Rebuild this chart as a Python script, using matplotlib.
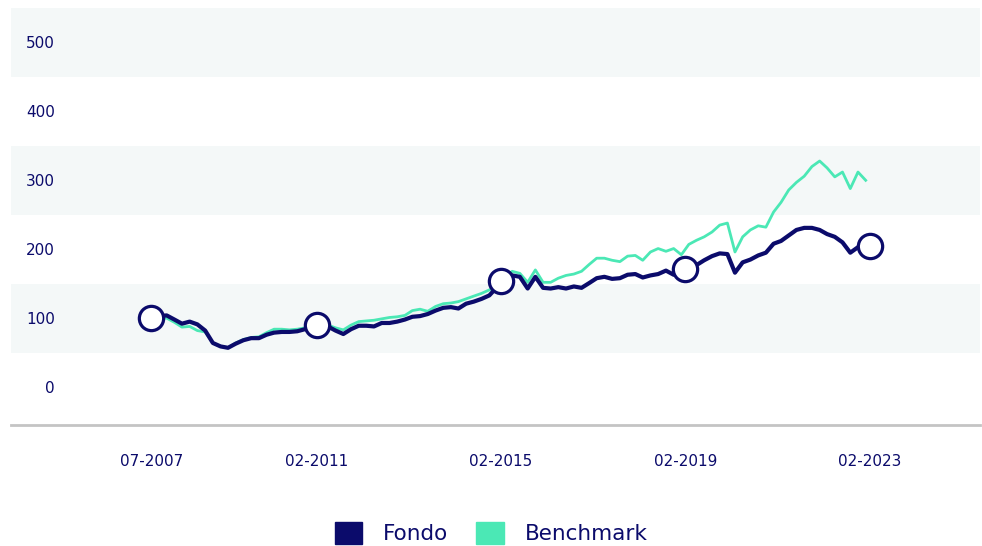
import matplotlib
matplotlib.use("Agg")
import matplotlib.pyplot as plt
import matplotlib.patches as mpatches
import numpy as np
import pandas as pd

plt.rcParams["font.family"] = "DejaVu Sans"

# every two months, 07-2007 .. 01-2023
dates = pd.date_range("2007-07-01", "2023-01-01", freq="2MS")

fondo = [100, 103, 104, 98, 92, 95, 91, 82, 64, 59,
         57, 63, 68, 71, 71, 76, 79, 80, 80, 81,
         84, 88, 89, 88, 82, 77, 84, 89, 89, 88,
         93, 93, 95, 98, 102, 103, 106, 111, 115, 116,
         114, 121, 124, 128, 133, 145, 155, 162, 160, 143,
         160, 144, 143, 145, 143, 146, 144, 151, 158, 160,
         157, 158, 163, 164, 159, 162, 164, 169, 163, 168,
         174, 177, 184, 190, 194, 193, 166, 181, 185, 191,
         195, 208, 212, 220, 228, 231, 231, 228, 222, 218,
         210, 195, 203, 204]

benchmark = [100, 101, 100, 94, 87, 88, 82, 80, 64, 59,
             57, 64, 69, 72, 73, 79, 84, 84, 83, 84,
             86, 88, 91, 90, 86, 83, 90, 95, 96, 97,
             99, 101, 102, 104, 111, 113, 110, 117, 121, 122,
             124, 128, 132, 136, 141, 147, 156, 168, 165, 152,
             170, 152, 152, 158, 162, 164, 168, 178, 187, 187,
             184, 182, 190, 191, 184, 196, 201, 197, 201, 192,
             207, 213, 218, 225, 235, 238, 196, 218, 228, 234,
             232, 254, 268, 286, 297, 306, 320, 328, 318, 305,
             312, 288, 312, 300]

marker_dates = pd.to_datetime(["2007-07-01", "2011-02-01", "2015-02-01",
                               "2019-02-01", "2023-02-01"])
marker_vals = [100, 90, 154, 172, 205]
tick_labels = ["07-2007", "02-2011", "02-2015", "02-2019", "02-2023"]

navy = "#0b0b6b"
green = "#4be8b5"
band = "#f4f8f8"

fig = plt.figure(figsize=(9.82, 5.46), dpi=100)
ax = fig.add_axes([11 / 982, 121 / 546, 969 / 982, 417 / 546])

for c in [100, 300, 500]:
    ax.axhspan(c - 50, c + 50, color=band, zorder=0, lw=0)

ax.plot(dates, benchmark, color=green, lw=2.0, zorder=2)
ax.plot(dates, fondo, color=navy, lw=3.0, zorder=3, solid_joinstyle="round")
ax.plot(marker_dates, marker_vals, ls="none", marker="o", ms=17.5,
        mfc="white", mec=navy, mew=2.3, zorder=4)

ax.set_ylim(-55, 550)
ax.set_xlim(pd.Timestamp("2004-06-15"), pd.Timestamp("2025-06-25"))
ax.set_yticks([0, 100, 200, 300, 400, 500])
ax.set_xticks(marker_dates)
ax.set_xticklabels(tick_labels)

for s in ["top", "right", "left"]:
    ax.spines[s].set_visible(False)
ax.spines["bottom"].set_color("#c4c4c4")
ax.spines["bottom"].set_linewidth(2)

ax.tick_params(axis="y", length=0, pad=-31.5, labelcolor=navy, labelsize=11)
ax.tick_params(axis="x", length=0, pad=21, labelcolor=navy, labelsize=11)
ax.set_facecolor("white")

handles = [mpatches.Patch(color=navy, label="Fondo"),
           mpatches.Patch(color=green, label="Benchmark")]
leg = fig.legend(handles=handles, loc="center", bbox_to_anchor=(0.5, 0.024),
                 ncol=2, frameon=False, fontsize=15.5, handlelength=1.3,
                 handleheight=1.2, handletextpad=0.95, columnspacing=1.3)
for t in leg.get_texts():
    t.set_color(navy)

fig.savefig("out.png", dpi=100)
